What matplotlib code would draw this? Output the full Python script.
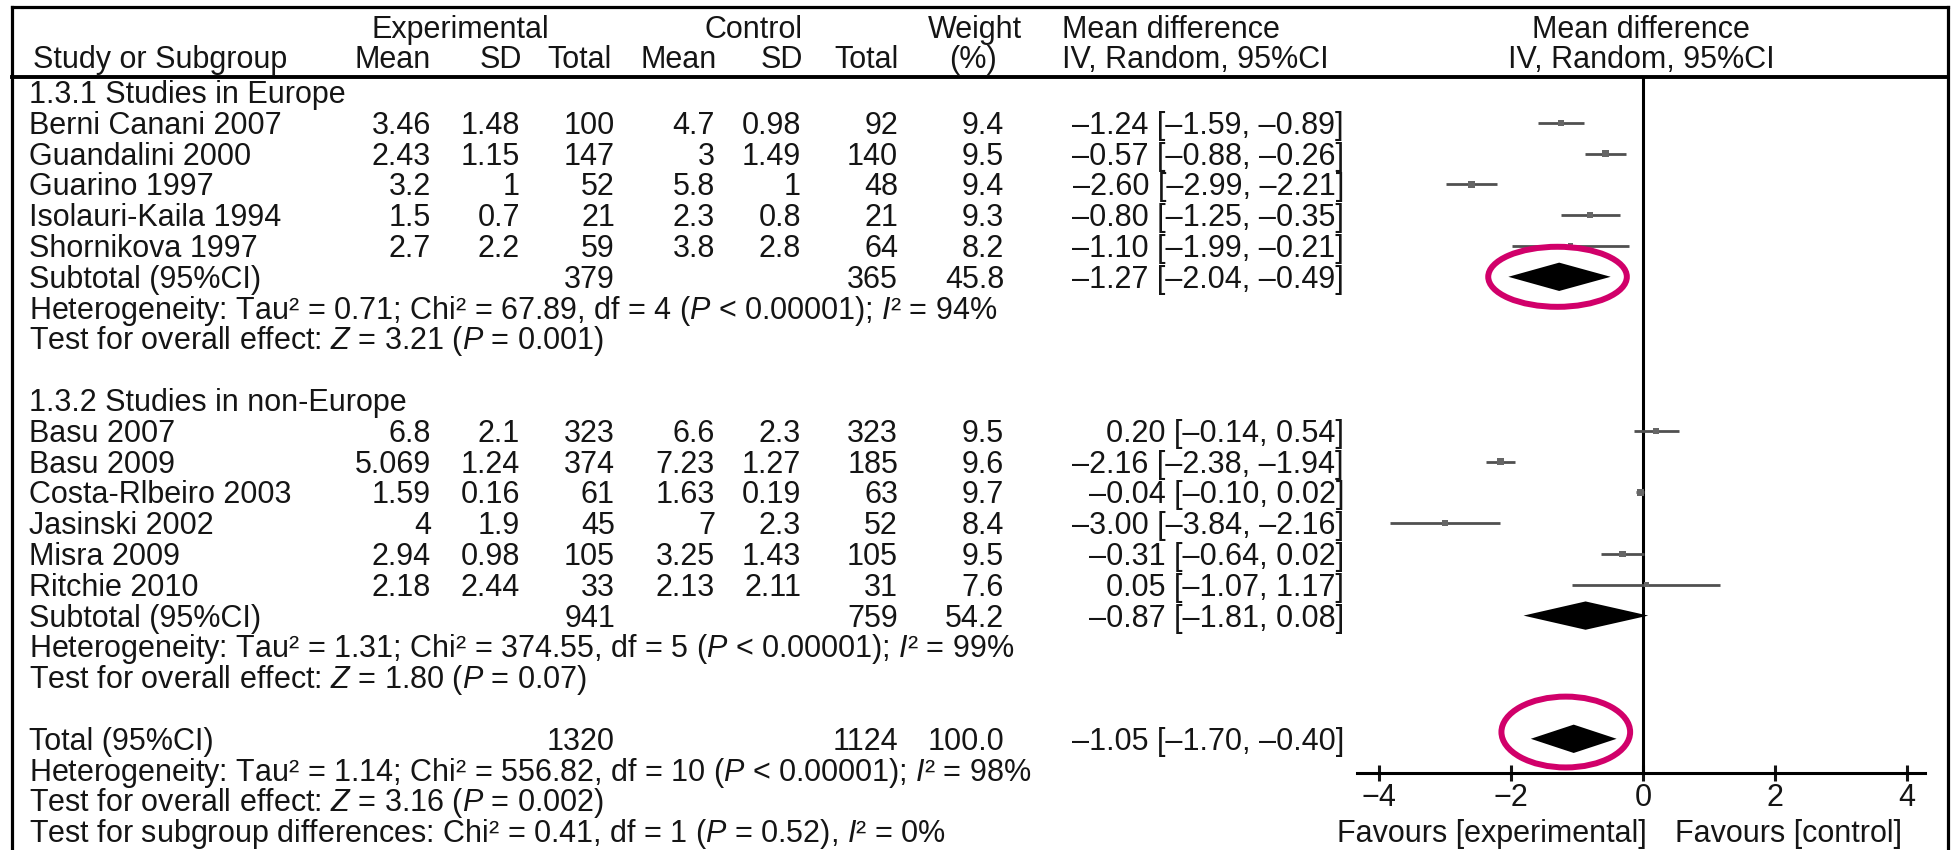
import matplotlib
matplotlib.use("Agg")
import matplotlib.pyplot as plt
from matplotlib.patches import Ellipse

plt.rcParams['font.family'] = ['Liberation Sans', 'DejaVu Sans']
plt.rcParams['mathtext.fontset'] = 'custom'
plt.rcParams['mathtext.rm'] = 'Liberation Sans'
plt.rcParams['mathtext.it'] = 'Liberation Sans:italic'

# ---------------- data ----------------
group_titles = ["1.3.1 Studies in Europe", "1.3.2 Studies in non-Europe"]

studies_eu = ["Berni Canani 2007", "Guandalini 2000", "Guarino 1997",
              "Isolauri-Kaila 1994", "Shornikova 1997"]
exp_mean_eu = [3.46, 2.43, 3.2, 1.5, 2.7]
exp_sd_eu = [1.48, 1.15, 1, 0.7, 2.2]
exp_n_eu = [100, 147, 52, 21, 59]
ctl_mean_eu = [4.7, 3, 5.8, 2.3, 3.8]
ctl_sd_eu = [0.98, 1.49, 1, 0.8, 2.8]
ctl_n_eu = [92, 140, 48, 21, 64]
weight_eu = [9.4, 9.5, 9.4, 9.3, 8.2]
md_eu = [-1.24, -0.57, -2.60, -0.80, -1.10]
lo_eu = [-1.59, -0.88, -2.99, -1.25, -1.99]
hi_eu = [-0.89, -0.26, -2.21, -0.35, -0.21]

studies_ne = ["Basu 2007", "Basu 2009", "Costa-Rlbeiro 2003",
              "Jasinski 2002", "Misra 2009", "Ritchie 2010"]
exp_mean_ne = [6.8, 5.069, 1.59, 4, 2.94, 2.18]
exp_sd_ne = [2.1, 1.24, 0.16, 1.9, 0.98, 2.44]
exp_n_ne = [323, 374, 61, 45, 105, 33]
ctl_mean_ne = [6.6, 7.23, 1.63, 7, 3.25, 2.13]
ctl_sd_ne = [2.3, 1.27, 0.19, 2.3, 1.43, 2.11]
ctl_n_ne = [323, 185, 63, 52, 105, 31]
weight_ne = [9.5, 9.6, 9.7, 8.4, 9.5, 7.6]
md_ne = [0.20, -2.16, -0.04, -3.00, -0.31, 0.05]
lo_ne = [-0.14, -2.38, -0.10, -3.84, -0.64, -1.07]
hi_ne = [0.54, -1.94, 0.02, -2.16, 0.02, 1.17]

pooled_labels = ["Subtotal (95%CI)", "Subtotal (95%CI)", "Total (95%CI)"]
pooled_exp_n = [379, 941, 1320]
pooled_ctl_n = [365, 759, 1124]
pooled_weight = [45.8, 54.2, 100.0]
pooled_md = [-1.27, -0.87, -1.05]
pooled_lo = [-2.04, -1.81, -1.70]
pooled_hi = [-0.49, 0.08, -0.40]

stats_eu = ["Heterogeneity: Tau\u00b2 = 0.71; Chi\u00b2 = 67.89, df = 4 ($P$ < 0.00001); $I$\u00b2 = 94%",
            "Test for overall effect: $Z$ = 3.21 ($P$ = 0.001)"]
stats_ne = ["Heterogeneity: Tau\u00b2 = 1.31; Chi\u00b2 = 374.55, df = 5 ($P$ < 0.00001); $I$\u00b2 = 99%",
            "Test for overall effect: $Z$ = 1.80 ($P$ = 0.07)"]
stats_total = ["Heterogeneity: Tau\u00b2 = 1.14; Chi\u00b2 = 556.82, df = 10 ($P$ < 0.00001); $I$\u00b2 = 98%",
               "Test for overall effect: $Z$ = 3.16 ($P$ = 0.002)",
               "Test for subgroup differences: Chi\u00b2 = 0.41, df = 1 ($P$ = 0.52), $I$\u00b2 = 0%"]

xticks = [-4, -2, 0, 2, 4]
favours = ["Favours [experimental]", "Favours [control]"]

# ---------------- layout (pixels) ----------------
W, H = 1957, 850
ROW0, DY = 92, 30.8        # y of row 0 and row spacing
FS = 22
BASE = 0.36 * FS * 100 / 72  # baseline offset below row centre
X_NAME, X_HDR = 29, 33
X_EM, X_ES, X_EN = 431, 520, 615
X_CM, X_CS, X_CN = 715, 801, 898
X_W, X_MD = 1004, 1344
FL, FR, F0, PXU = 1357, 1925, 1643, 66.0
HDR_Y, AX_Y = 77, 773
MAGENTA = "#D1006A"
GREY_LINE = "#505050"
GREY_MARK = "#666666"
TXT = "#151515"

fig = plt.figure(figsize=(W / 100, H / 100), dpi=100)
tax = fig.add_axes([0, 0, 1, 1])
tax.set_xlim(0, W)
tax.set_ylim(H, 0)
tax.axis('off')


def ry(r):
    return ROW0 + DY * r


def put(x, r, s, ha='right', ypx=None):
    y = (ry(r) if ypx is None else ypx) + BASE
    tax.text(x, y, s, ha=ha, va='baseline', fontsize=FS, color=TXT)


def g(v):
    return f"{v:g}"


def mdtxt(m, l, h):
    return f"{m:.2f} [{l:.2f}, {h:.2f}]".replace('-', '\u2013')


# frame and header line
tax.plot([12, 12], [H + 5, 7], color='black', lw=2.3, solid_capstyle='projecting')
tax.plot([12, 1948], [7, 7], color='black', lw=2.3, solid_capstyle='projecting')
tax.plot([1948, 1948], [7, H + 5], color='black', lw=2.3, solid_capstyle='projecting')
tax.plot([12, 1948], [HDR_Y, HDR_Y], color='black', lw=2.8)

# headers
put(460, 0, "Experimental", ha='center', ypx=27)
put(753, 0, "Control", ha='center', ypx=27)
put(975, 0, "Weight", ha='center', ypx=27)
put(1062, 0, "Mean difference", ha='left', ypx=27)
put(1641, 0, "Mean difference", ha='center', ypx=27)
put(X_HDR, 0, "Study or Subgroup", ha='left', ypx=57)
for x, s in [(X_EM, "Mean"), (X_ES + 2, "SD"), (X_EN - 3, "Total"),
             (X_CM + 2, "Mean"), (X_CS + 2, "SD"), (X_CN + 1, "Total")]:
    put(x, 0, s, ha='right', ypx=57)
put(973, 0, "(%)", ha='center', ypx=57)
put(1062, 0, "IV, Random, 95%CI", ha='left', ypx=57)
put(1641, 0, "IV, Random, 95%CI", ha='center', ypx=57)

# forest axes
ax_b = 1 - AX_Y / H
ax_h = (AX_Y - HDR_Y) / H
fax = fig.add_axes([FL / W, ax_b, (FR - FL) / W, ax_h])
fax.patch.set_alpha(0)
fax.set_xlim((FL - F0) / PXU, (FR - F0) / PXU)
fax.set_ylim((AX_Y - ROW0) / DY, (HDR_Y - ROW0) / DY)
for s in ['left', 'right', 'top']:
    fax.spines[s].set_visible(False)
fax.spines['bottom'].set_linewidth(2.2)
fax.set_yticks([])
fax.set_xticks(xticks)
fax.tick_params(axis='x', direction='inout', length=11, width=2.2,
                labelsize=FS, pad=2, colors=TXT)
fax.axvline(0, color='black', lw=2.2, zorder=2)

groups = [
    (studies_eu, exp_mean_eu, exp_sd_eu, exp_n_eu, ctl_mean_eu, ctl_sd_eu, ctl_n_eu,
     weight_eu, md_eu, lo_eu, hi_eu, stats_eu),
    (studies_ne, exp_mean_ne, exp_sd_ne, exp_n_ne, ctl_mean_ne, ctl_sd_ne, ctl_n_ne,
     weight_ne, md_ne, lo_ne, hi_ne, stats_ne),
]

row = 0
pooled_rows = []
for gi, (names, em, es, en, cm, cs, cn, w, md, lo, hi, st) in enumerate(groups):
    put(X_NAME, row, group_titles[gi], ha='left')
    rows = []
    for i in range(len(names)):
        row += 1
        rows.append(row)
        put(X_NAME, row, names[i], ha='left')
        put(X_EM, row, g(em[i])); put(X_ES, row, g(es[i])); put(X_EN, row, g(en[i]))
        put(X_CM, row, g(cm[i])); put(X_CS, row, g(cs[i])); put(X_CN, row, g(cn[i]))
        put(X_W, row, f"{w[i]:.1f}")
        put(X_MD, row, mdtxt(md[i], lo[i], hi[i]))
    fax.hlines(rows, lo, hi, color=GREY_LINE, lw=2.0, zorder=3)
    fax.scatter(md, rows, marker='s', s=[(wi * 0.5) ** 2 for wi in w],
                color=GREY_MARK, zorder=4, linewidths=0)
    row += 1
    pooled_rows.append(row)
    put(X_NAME, row, pooled_labels[gi], ha='left')
    put(X_EN, row, g(pooled_exp_n[gi])); put(X_CN, row, g(pooled_ctl_n[gi]))
    put(X_W, row, f"{pooled_weight[gi]:.1f}")
    put(X_MD, row, mdtxt(pooled_md[gi], pooled_lo[gi], pooled_hi[gi]))
    for s in st:
        row += 1
        put(X_NAME, row, s, ha='left')
    row += 2

# overall
pooled_rows.append(row)
put(X_NAME, row, pooled_labels[2], ha='left')
put(X_EN, row, g(pooled_exp_n[2])); put(X_CN, row, g(pooled_ctl_n[2]))
put(X_W, row, f"{pooled_weight[2]:.1f}")
put(X_MD, row, mdtxt(pooled_md[2], pooled_lo[2], pooled_hi[2]))
for s in stats_total:
    row += 1
    put(X_NAME, row, s, ha='left')

# diamonds
HH = 0.46
for r, m, l, h in zip(pooled_rows, pooled_md, pooled_lo, pooled_hi):
    fax.fill([l, m, h, m], [r, r - HH, r, r + HH], color='black', lw=0, zorder=5)

# highlight ellipses around subgroup 1 and total diamonds
highlight = [(0, -0.03, 0.0, 0.55, 1.95), (2, -0.12, -0.22, 0.65, 2.3)]
for k, dx, dy, padw, hgt in highlight:
    cx = (pooled_lo[k] + pooled_hi[k]) / 2 + dx
    cy = pooled_rows[k] + dy
    e = Ellipse((cx, cy), width=(pooled_hi[k] - pooled_lo[k]) + padw, height=hgt,
                fill=False, ec=MAGENTA, lw=4.3, zorder=6, clip_on=False)
    fax.add_patch(e)

# favours labels
put(1647, 0, favours[0], ha='right', ypx=ry(row))
put(1675, 0, favours[1], ha='left', ypx=ry(row))

fig.savefig("out.png", dpi=100)
